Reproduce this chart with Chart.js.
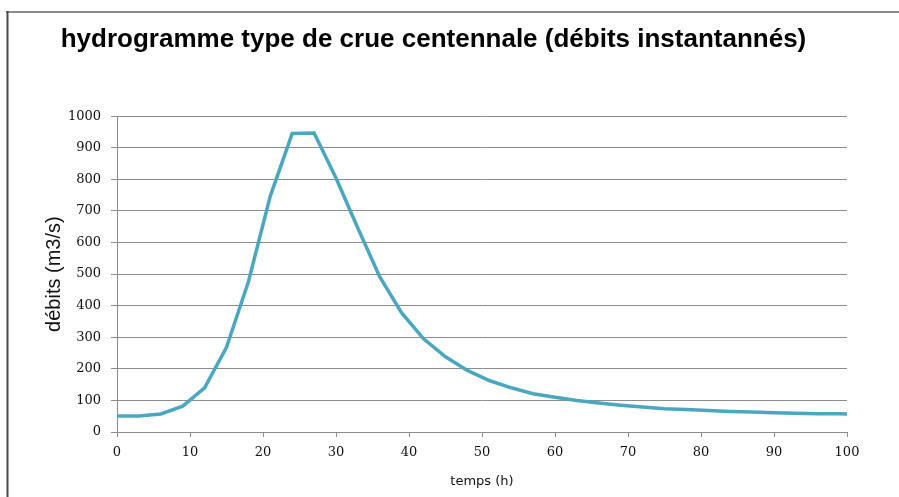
<!DOCTYPE html>
<html lang="fr">
<head>
<meta charset="utf-8">
<title>hydrogramme type de crue centennale</title>
<script src="https://cdn.jsdelivr.net/npm/chart.js@4.4.1/dist/chart.umd.min.js"></script>
<style>
  html, body { margin: 0; padding: 0; background: #ffffff; }
  #wrap { position: relative; width: 899px; height: 497px; }
</style>
</head>
<body>
<div id="wrap"><canvas id="hydro" width="899" height="497"></canvas></div>
<script>
// Temps (h) et débits instantanés (m3/s) de l'hydrogramme
const heures = [0, 3, 6, 9, 12, 15, 18, 21, 24, 27, 30, 33, 36, 39, 42, 45, 48, 51, 54, 57,
                60, 63, 66, 69, 72, 75, 78, 81, 84, 87, 90, 93, 96, 99, 100];
const debits = [51, 51, 57, 82, 140, 268, 476, 747, 945, 947, 804, 645, 491, 377, 295, 238, 195, 163, 140, 121,
                110, 100, 92, 85, 79, 74, 71, 68, 65, 63, 61, 59, 58, 58, 57];

const titre = 'hydrogramme type de crue centennale (débits instantannés)';
const titreY = 'débits (m3/s)';
const titreX = 'temps (h)';

const points = heures.map((h, i) => ({ x: h, y: debits[i] }));

// Cadre du graphique (traits haut et gauche)
const cadre = {
  id: 'cadre',
  afterDraw(chart) {
    const ctx = chart.ctx;
    ctx.save();
    ctx.lineWidth = 2;
    ctx.strokeStyle = '#8a8a8a';
    ctx.beginPath();
    ctx.moveTo(6, 12);
    ctx.lineTo(899, 12);
    ctx.stroke();
    ctx.strokeStyle = '#4a4a4a';
    ctx.beginPath();
    ctx.moveTo(7.5, 11);
    ctx.lineTo(7.5, 497);
    ctx.stroke();
    ctx.restore();
  }
};

new Chart(document.getElementById('hydro'), {
  type: 'line',
  data: {
    datasets: [{
      data: points,
      borderColor: '#4BA6BF',
      borderWidth: 3.5,
      pointRadius: 0,
      tension: 0,
      fill: false
    }]
  },
  options: {
    responsive: false,
    animation: false,
    layout: { padding: { left: 20, right: 52, top: 0, bottom: 0 } },
    plugins: {
      legend: { display: false },
      tooltip: { enabled: false },
      title: {
        display: true,
        text: titre,
        color: '#000000',
        font: { family: '"Liberation Sans", Arial, sans-serif', size: 26, weight: 'bold', lineHeight: 1.2 },
        padding: { top: 24, bottom: 61 }
      }
    },
    scales: {
      x: {
        type: 'linear',
        min: 0,
        max: 100,
        afterFit(scale) { scale.height = 65; },
        ticks: {
          stepSize: 10,
          color: '#111111',
          padding: 8,
          callback: (v) => String(v),
          font: { family: '"DejaVu Serif", serif', size: 13 }
        },
        grid: { drawOnChartArea: false, drawTicks: true, tickLength: 5, color: '#8c8c8c' },
        border: { display: true, color: '#8c8c8c', width: 1 },
        title: {
          display: true,
          text: titreX,
          color: '#111111',
          font: { family: '"DejaVu Sans", sans-serif', size: 13 },
          padding: { top: 0, bottom: 8 }
        }
      },
      y: {
        min: 0,
        max: 1000,
        afterFit(scale) { scale.width = 97; },
        ticks: {
          stepSize: 100,
          color: '#111111',
          padding: 10,
          callback: (v) => String(v),
          font: { family: '"DejaVu Serif", serif', size: 13 }
        },
        grid: { color: '#8c8c8c', lineWidth: 1, tickLength: 6 },
        border: { display: true, color: '#8c8c8c', width: 1 },
        title: {
          display: true,
          text: titreY,
          color: '#111111',
          font: { family: '"Liberation Sans", Arial, sans-serif', size: 20 },
          padding: { top: 22, bottom: 0 }
        }
      }
    }
  },
  plugins: [cadre]
});
</script>
</body>
</html>
